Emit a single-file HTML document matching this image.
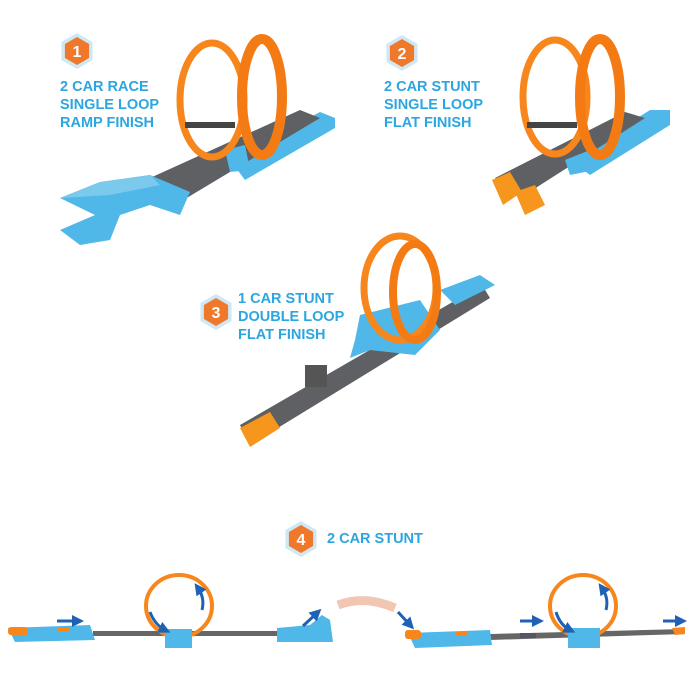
<!DOCTYPE html>
<html><head><meta charset="utf-8"><style>
html,body{margin:0;padding:0;background:#fff;}
svg{display:block}
text{font-family:"Liberation Sans",sans-serif;font-weight:bold;fill:#2ba6e0;font-size:14.5px;}
</style></head><body>
<svg width="700" height="700" viewBox="0 0 700 700" xmlns="http://www.w3.org/2000/svg">
<defs>
<g id="hex"><polygon points="0,-18 15.6,-9 15.6,9 0,18 -15.6,9 -15.6,-9" fill="#cfe8f6"/><polygon points="0,-14 12.1,-7 12.1,7 0,14 -12.1,7 -12.1,-7" fill="#f0782a"/></g>
<marker id="ar" viewBox="0 0 10 10" refX="5" refY="5" markerWidth="4" markerHeight="4" orient="auto"><path d="M0,0L10,5L0,10z" fill="#1f62b5"/></marker>
</defs>

<!-- Labels -->
<use href="#hex" x="77" y="51"/><text x="77" y="57" text-anchor="middle" style="fill:#fff;font-size:16px">1</text>
<text x="60" y="91">2 CAR RACE</text><text x="60" y="109">SINGLE LOOP</text><text x="60" y="127">RAMP  FINISH</text>
<use href="#hex" x="402" y="53"/><text x="402" y="59" text-anchor="middle" style="fill:#fff;font-size:16px">2</text>
<text x="384" y="91">2 CAR STUNT</text><text x="384" y="109">SINGLE LOOP</text><text x="384" y="127">FLAT FINISH</text>
<use href="#hex" x="216" y="312"/><text x="216" y="318" text-anchor="middle" style="fill:#fff;font-size:16px">3</text>
<text x="238" y="303">1 CAR STUNT</text><text x="238" y="321">DOUBLE LOOP</text><text x="238" y="339">FLAT FINISH</text>
<use href="#hex" x="301" y="539"/><text x="301" y="545" text-anchor="middle" style="fill:#fff;font-size:16px">4</text>
<text x="327" y="543">2 CAR STUNT</text>

<!-- Set 1 -->
<polygon points="230,160 320,112 335,118 335,128 245,180" fill="#4fb8e8"/>
<polygon points="150,178 300,110 320,118 175,205" fill="#5e6063"/>
<polygon points="60,198 100,182 150,175 190,192 180,215 150,205 120,215 110,240 80,245 60,230 95,215" fill="#4fb8e8"/>
<polygon points="60,198 100,182 150,175 160,185 110,195" fill="#7cc9ee"/>
<polygon points="225,150 245,145 250,170 230,172" fill="#4fb8e8"/>
<ellipse cx="212" cy="100" rx="32" ry="57" fill="none" stroke="#f7861c" stroke-width="7"/>
<ellipse cx="262" cy="97" rx="20" ry="58" fill="none" stroke="#f47b14" stroke-width="10"/>
<rect x="185" y="122" width="50" height="6" fill="#444"/>

<!-- Set 2 -->
<polygon points="570,160 650,110 670,110 670,125 590,175" fill="#4fb8e8"/>
<polygon points="495,178 625,112 645,118 520,198" fill="#5e6063"/>
<polygon points="492,180 510,172 522,192 503,205" fill="#f7961c"/>
<polygon points="515,192 535,185 545,205 525,215" fill="#f7961c"/>
<polygon points="565,160 590,150 595,170 570,175" fill="#4fb8e8"/>
<ellipse cx="555" cy="97" rx="32" ry="57" fill="none" stroke="#f7861c" stroke-width="7"/>
<ellipse cx="600" cy="97" rx="20" ry="58" fill="none" stroke="#f47b14" stroke-width="10"/>
<rect x="527" y="122" width="50" height="6" fill="#444"/>

<!-- Set 3 -->
<polygon points="240,425 250,445 490,298 482,285" fill="#5e6063"/>
<polygon points="240,428 270,412 280,428 250,447" fill="#f7961c"/>
<polygon points="360,315 420,300 440,330 415,355 370,350 350,358 355,340" fill="#4fb8e8"/>
<polygon points="440,290 480,275 495,285 455,305" fill="#4fb8e8"/>
<ellipse cx="400" cy="288" rx="36" ry="52" fill="none" stroke="#f7861c" stroke-width="7"/>
<ellipse cx="415" cy="292" rx="22" ry="48" fill="none" stroke="#f47b14" stroke-width="8"/>
<rect x="305" y="365" width="22" height="22" fill="#555"/>

<!-- Bottom left -->
<rect x="93" y="631" width="187" height="5" fill="#666"/>
<polygon points="8,628 90,625 95,640 15,642" fill="#4fb8e8"/>
<rect x="8" y="627" width="20" height="8" rx="3" fill="#f7861c"/>
<rect x="58" y="627" width="12" height="4" fill="#f7861c"/>
<ellipse cx="179" cy="606" rx="33" ry="31" fill="none" stroke="#f7861c" stroke-width="4"/>
<rect x="165" y="629" width="27" height="19" fill="#4fb8e8"/>
<polygon points="277,628 310,625 322,615 330,620 333,642 277,642" fill="#4fb8e8"/>
<line x1="57" y1="621" x2="78" y2="621" stroke="#1f62b5" stroke-width="3" marker-end="url(#ar)"/>
<path d="M150,612 Q155,625 165,630" fill="none" stroke="#1f62b5" stroke-width="3" marker-end="url(#ar)"/>
<path d="M202,610 Q205,598 198,588" fill="none" stroke="#1f62b5" stroke-width="3" marker-end="url(#ar)"/>
<line x1="303" y1="626" x2="317" y2="613" stroke="#1f62b5" stroke-width="3" marker-end="url(#ar)"/>
<path d="M338,605 Q365,595 395,608" fill="none" stroke="#e8a080" stroke-width="9" opacity="0.6"/>
<path d="M398,612 L410,625" stroke="#1f62b5" stroke-width="3" marker-end="url(#ar)"/>

<!-- Bottom right -->
<polygon points="490,634 685,629 685,634 490,640" fill="#666"/>
<polygon points="408,633 490,630 492,645 415,648" fill="#4fb8e8"/>
<rect x="405" y="630" width="16" height="9" rx="3" fill="#f7861c"/>
<rect x="455" y="632" width="12" height="4" fill="#f7861c"/>
<ellipse cx="583" cy="606" rx="33" ry="31" fill="none" stroke="#f7861c" stroke-width="4"/>
<rect x="568" y="628" width="32" height="20" fill="#4fb8e8"/>
<polygon points="672,628 685,627 685,634 675,635" fill="#f7861c"/>
<rect x="520" y="633" width="16" height="5" fill="#556"/>
<line x1="520" y1="621" x2="538" y2="621" stroke="#1f62b5" stroke-width="3" marker-end="url(#ar)"/>
<line x1="663" y1="621" x2="681" y2="621" stroke="#1f62b5" stroke-width="3" marker-end="url(#ar)"/>
<path d="M556,612 Q560,625 570,630" fill="none" stroke="#1f62b5" stroke-width="3" marker-end="url(#ar)"/>
<path d="M606,610 Q609,598 602,588" fill="none" stroke="#1f62b5" stroke-width="3" marker-end="url(#ar)"/>
</svg>
</body></html>
